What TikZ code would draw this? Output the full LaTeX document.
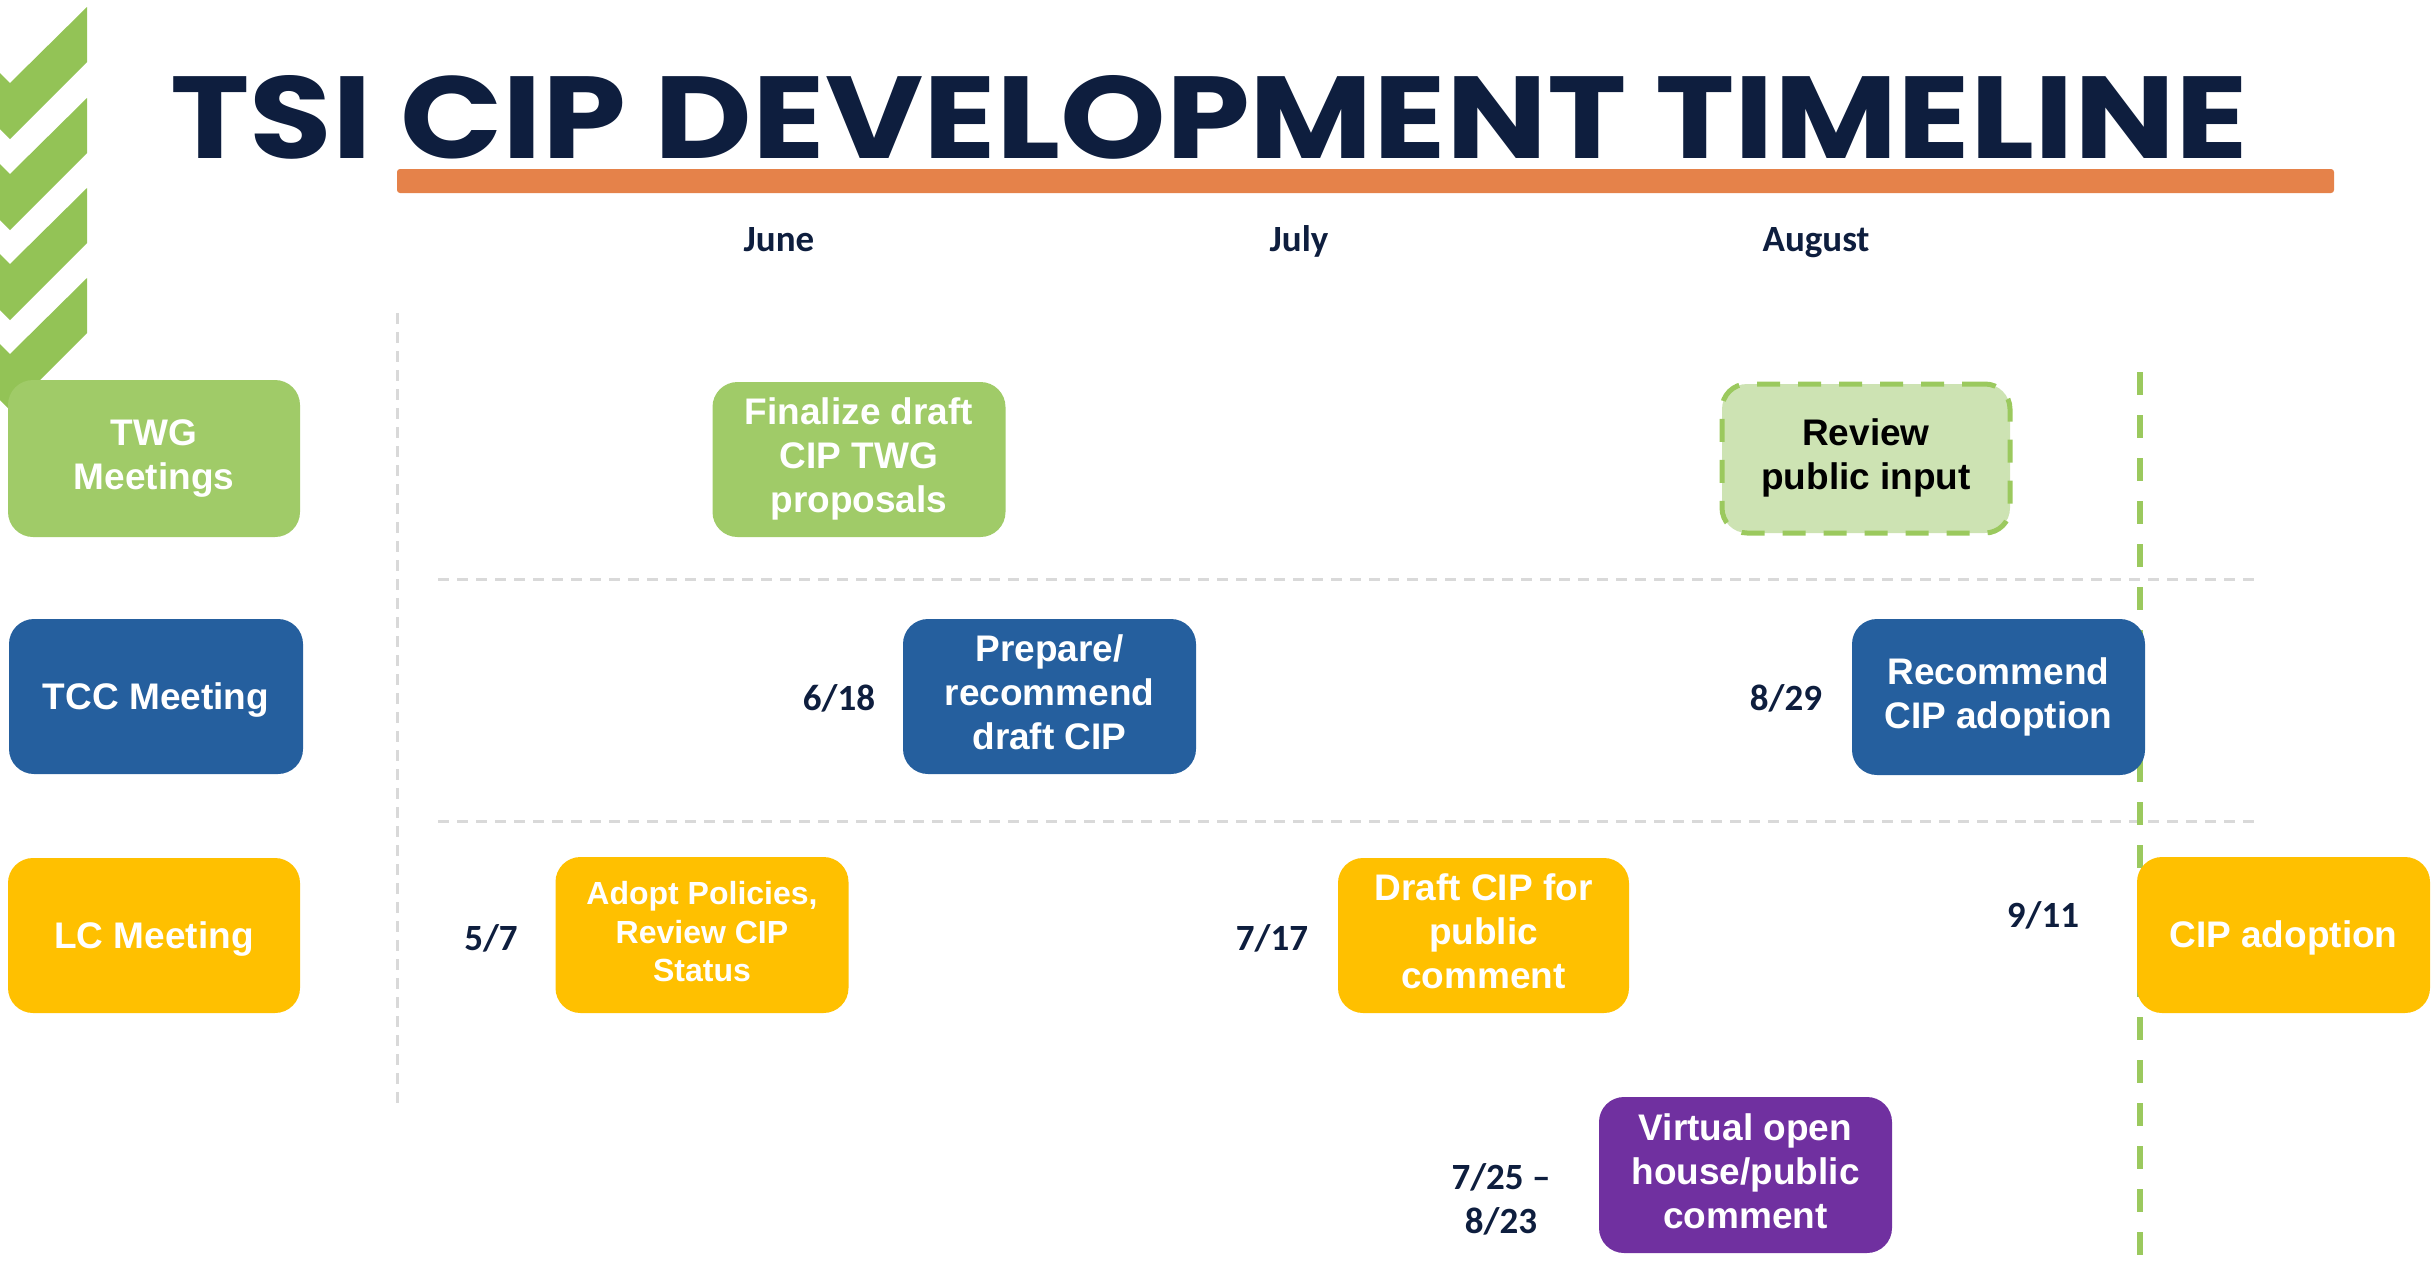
\documentclass[tikz,border=0pt]{standalone}
\usepackage{fontspec}
\usepackage{graphicx}
\setmainfont{Liberation Sans}
\newfontfamily\titlefont{Poppins}
\newfontfamily\datefont{Carlito}
\definecolor{navy}{HTML}{0E1E3E}
\definecolor{orangebar}{HTML}{E5824A}
\definecolor{twg}{HTML}{A0CB68}
\definecolor{chev}{HTML}{93C356}
\definecolor{tcc}{HTML}{255F9E}
\definecolor{lc}{HTML}{FFC000}
\definecolor{purp}{HTML}{7030A0}
\definecolor{revfill}{HTML}{CDE3B3}
\definecolor{revline}{HTML}{9BC95E}
\definecolor{gridgray}{HTML}{D9D9D9}
\newcommand\pptstrut{\rule[-0.212em]{0pt}{1.117em}}
\tikzset{
  evbox/.style={rounded corners=25pt, inner sep=0pt, minimum width=293pt, minimum height=155pt,
    align=center, text=white, font=\bfseries\fontsize{37}{44}\selectfont,
    execute at begin node=\pptstrut, execute at end node=\pptstrut},
  datelbl/.style={inner sep=0pt, align=center, text=navy, font=\datefont\bfseries\fontsize{37}{44}\selectfont},
  gridline/.style={draw=gridgray, line width=3pt, dash pattern=on 11pt off 8pt},
}
\begin{document}
\begin{tikzpicture}[x=1pt,y=-1pt]
\useasboundingbox (0,0) rectangle (2433,1267);
% chevrons
\foreach \t in {7,98,188,278}{
  \fill[chev] (87,\t) -- (87,\t+55) -- (10,\t+132) -- (0,\t+122) -- (0,\t+66) -- (10,\t+76) -- cycle;
}
% title
\node[anchor=base west, inner sep=0pt, text=navy] (title) at (170,158)
  {\resizebox{2077pt}{83pt}{\titlefont\bfseries TSI CIP DEVELOPMENT TIMELINE}};
\fill[orangebar, rounded corners=3pt] (397,169) rectangle (2334,193);
% months
\node[datelbl, anchor=base] (june) at (779,251) {June};
\node[datelbl, anchor=base] (july) at (1299,251) {July};
\node[datelbl, anchor=base] (aug) at (1816,251) {August};
% grid
\coordinate (v1) at (397,313); \coordinate (v2) at (397,1110);
\coordinate (h1a) at (438,579); \coordinate (h1b) at (2258,579);
\coordinate (h2a) at (438,821); \coordinate (h2b) at (2258,821);
\draw[gridline] (v1) -- (v2);
\draw[gridline] (h1a) -- (h1b);
\draw[gridline] (h2a) -- (h2b);
% green deadline line
\coordinate (g1) at (2140,372); \coordinate (g2) at (2140,1267);
\draw[revline, line width=6pt, dash pattern=on 23pt off 20pt] (g1) -- (g2);
% row headers
\node[evbox, fill=twg, minimum width=292pt, minimum height=157pt] (twg) at (154,458.5) {TWG\\Meetings};
\node[evbox, fill=tcc, minimum width=294pt] (tcc) at (156,696.5) {TCC Meeting};
\node[evbox, fill=lc, minimum width=292pt] (lc) at (154,935.5) {LC Meeting};
% events
\node[evbox, fill=twg] (fin) at (859,459.5) {Finalize draft\\CIP TWG\\proposals};
\node[evbox, fill=revfill, draw=revline, line width=5pt, dash pattern=on 23pt off 18pt, text=black, minimum width=288pt, minimum height=149pt] (rev) at (1866,458.5) {Review\\public input};
\node[evbox, fill=tcc] (prep) at (1049.5,696.5) {Prepare/\\recommend\\draft CIP};
\node[evbox, fill=tcc, minimum height=156pt] (rec) at (1998.5,697) {Recommend\\CIP adoption};
\node[evbox, fill=lc, minimum height=156pt, font=\bfseries\fontsize{32}{38.5}\selectfont] (adopt) at (702,935) {Adopt Policies,\\Review CIP\\Status};
\node[evbox, fill=lc, minimum width=291pt] (draft) at (1483.5,935.5) {Draft CIP for\\public\\comment};
\node[evbox, fill=lc, minimum height=156pt] (cipad) at (2283.5,935) {CIP adoption};
\node[evbox, fill=purp, minimum height=156pt] (virt) at (1745.5,1175) {Virtual open\\house/public\\comment};
% dates
\node[datelbl] (d618) at (839,698) {6/18};
\node[datelbl] (d829) at (1786,698) {8/29};
\node[datelbl] (d57) at (491,938) {5/7};
\node[datelbl] (d717) at (1272,938) {7/17};
\node[datelbl] (d911) at (2043,915) {9/11};
\node[datelbl] (d725) at (1501,1199) {7/25 –\\8/23};
\end{tikzpicture}
\end{document}
